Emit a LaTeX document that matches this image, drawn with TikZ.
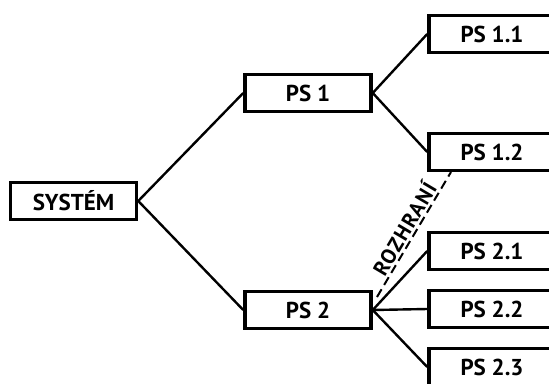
\documentclass[tikz,border=0pt]{standalone}
\usepackage{fontspec}
\setmainfont{PT Sans}
\newfontfamily\ifacefont[LetterSpace=6]{PT Sans}

\begin{document}
\begin{tikzpicture}[x=1pt, y=-1pt,
    part/.style={rectangle, draw, line width=3.5pt, minimum width=126pt, minimum height=37pt, inner sep=0pt, font=\fontsize{23}{23}\selectfont\bfseries},
    link/.style={line width=2.4pt},
    iface/.style={line width=2pt, dash pattern=on 9pt off 5pt}
]
\clip (0,0) rectangle (549,383);

% System
\node at (73.5,201) [part] (sys) {SYSTÉM};

% Level 1
\node at (308,93) [part] (ps1) {PS 1};
\node at (308,310) [part] (ps2) {PS 2};

% Level 2 (cut at the right edge)
\node at (492,34) [part] (ps11) {PS 1.1};
\node at (492,152) [part] (ps12) {PS 1.2};
\node at (492,251) [part] (ps21) {PS 2.1};
\node at (492,309) [part] (ps22) {PS 2.2};
\node at (492,367) [part] (ps23) {PS 2.3};

% Connectors
\draw[link] (sys.east) -- (ps1.west);
\draw[link] (sys.east) -- (ps2.west);
\draw[link] (ps1.east) -- (ps11.west);
\draw[link] (ps1.east) -- (ps12.west);
\draw[link] (ps2.east) -- (ps21.west);
\draw[link] (ps2.east) -- (ps22.west);
\draw[link] (ps2.east) -- (ps23.west);

% Interface
\coordinate (rzLow) at (377,297);
\coordinate (rzHigh) at (451,172);
\draw[iface] (rzLow) -- node[above, sloped, inner sep=2pt, font=\fontsize{21}{21}\ifacefont\bfseries] (rz) {ROZHRANÍ} (rzHigh);

\end{tikzpicture}
\end{document}
